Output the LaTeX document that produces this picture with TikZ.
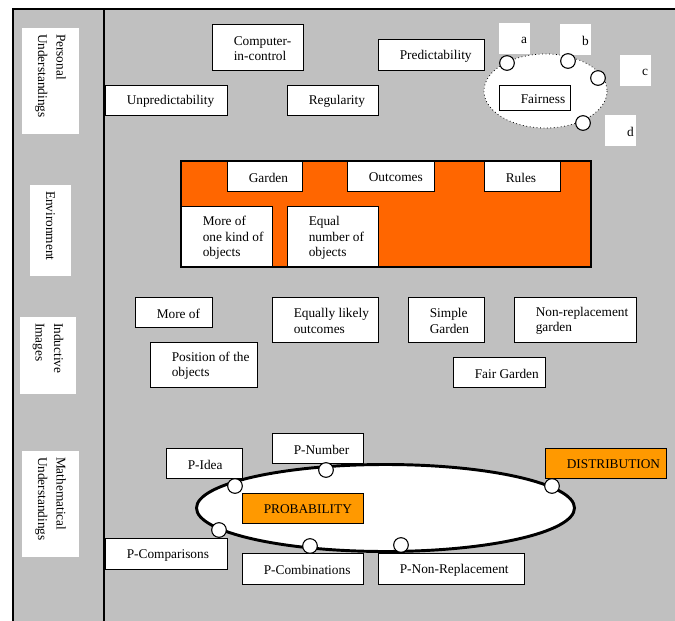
\documentclass[tikz,border=0pt]{standalone}
\usepackage{fontspec}
\setmainfont{Liberation Serif}
\usetikzlibrary{calc,fit}

\definecolor{panelgray}{HTML}{C0C0C0}
\definecolor{envorange}{HTML}{FF6600}
\definecolor{keyorange}{HTML}{FF9900}

\tikzset{
	tbox/.style={draw, fill=white, line width=0.75pt, inner sep=0pt},
	nobox/.style={fill=white, inner sep=0pt},
	obox/.style={draw, fill=keyorange, line width=0.75pt, inner sep=0pt},
	btext/.style={anchor=west, align=left, inner sep=0pt, font=\fontsize{10}{11.5}\selectfont},
	sidetext/.style={rotate=-90, anchor=west, align=left, inner sep=0pt, font=\fontsize{10}{13.8}\selectfont},
	knob/.style={circle, draw, fill=white, line width=0.8pt, inner sep=0pt, minimum size=11pt}
}

% box from two corners, text set in from the left edge
\def\tbox[#1](#2)(#3)(#4)#5{%
	\node[#1, fit={(#3) (#4)}] (#2) {};
	\node[btext] (#2-t) at ($(#2.west)+(22,1.5)$) {#5};
}

\begin{document}
\begin{tikzpicture}[x=0.75pt, y=-0.75pt]
			\useasboundingbox (0,0) rectangle (675,621);
			
			%%%%% PANEL %%%%%
			\fill[panelgray] (13,9) rectangle (675,621);
			\draw[line width=0.8pt] (675,9) -- (13,9) -- (13,621);
			\draw[line width=0.8pt] (104,9) -- (104,621);
			
			\node[nobox, fit={(22,28) (79,134)}] (pers) {};
			\node[sidetext] (pers-t) at ($(pers.north)+(0,6)$) {Personal\\Understandings};
			\node[nobox, fit={(30,185) (71,276)}] (envt) {};
			\node[sidetext] (envt-t) at ($(envt.north)+(0,6)$) {Environment};
			\node[nobox, fit={(20,317) (76,394)}] (induct) {};
			\node[sidetext] (induct-t) at ($(induct.north)+(0,6)$) {Inductive\\Images};
			\node[nobox, fit={(22,451) (79,557)}] (math) {};
			\node[sidetext] (math-t) at ($(math.north)+(0,6)$) {Mathematical\\Understandings};
			
			%%%%% PERSONAL %%%%%
			\tbox[tbox](compctl)(212,24)(303,70){Computer-\\in-control}
			\tbox[tbox](unpred)(105,85)(227,115){Unpredictability}
			\tbox[tbox](regul)(287,85)(378,115){Regularity}
			\tbox[tbox](predict)(378,39)(484,70){Predictability}
			
			\draw[fill=white, dotted, line width=0.6pt] (545.5,91) ellipse [x radius=61.5, y radius=37];
			\tbox[tbox](fair)(499,85)(570,110){Fairness}
			\tbox[nobox](la)(499,23)(530,54){a}
			\tbox[nobox](lb)(560,24)(591,55){b}
			\tbox[nobox](lc)(620,55)(651,86){c}
			\tbox[nobox](ld)(605,115)(636,146){d}
			\foreach \n/\x/\y in {ka/507/63, kb/568/61, kc/598/78, kd/583/123}
				\node[knob] (\n) at (\x,\y) {};
			
			%%%%% ENVIRONMENT %%%%%
			\node[fill=envorange, inner sep=0pt, fit={(181,161) (591,267)}] (env) {};
			\tbox[tbox](garden)(227,161)(302,191){Garden}
			\tbox[tbox](outc)(347,161)(434,191){Outcomes}
			\tbox[tbox](rules)(484,161)(560,191){Rules}
			\tbox[tbox](moreone)(181,206)(272,267){More of\\one kind of\\objects}
			\tbox[tbox](equalno)(287,206)(378,267){Equal\\number of\\objects}
			\draw[line width=1.6pt] (env.north west) rectangle (env.south east);
			
			%%%%% INDUCTIVE %%%%%
			\tbox[tbox](moreof)(135,297)(212,327){More of}
			\tbox[tbox](eqlikely)(272,297)(378,342){Equally likely\\outcomes}
			\tbox[tbox](position)(150,342)(257,387){Position of the\\objects}
			\tbox[tbox](simple)(408,297)(484,342){Simple\\Garden}
			\tbox[tbox](nonrepl)(514,297)(636,342){Non-replacement\\garden}
			\tbox[tbox](fairgdn)(453,357)(545,387){Fair Garden}
			
			%%%%% MATHEMATICAL %%%%%
			\coordinate (probell) at (385.5,508);
			\draw[fill=white, line width=2.2pt] (probell) ellipse [x radius=189, y radius=43.5];
			\tbox[tbox](pidea)(166,448)(242,478){P-Idea}
			\tbox[tbox](pnum)(272,433)(363,463){P-Number}
			\tbox[tbox](pcomp)(105,538)(227,569){P-Comparisons}
			\tbox[tbox](pcomb)(242,553)(363,584){P-Combinations}
			\tbox[tbox](pnonrep)(378,553)(524,584){P-Non-Replacement}
			\tbox[obox](prob)(242,493)(363,523){PROBABILITY}
			\tbox[obox](distr)(545,448)(666,478){DISTRIBUTION}
			\foreach \n/\x/\y in {k1/235/486, k2/326/470, k3/219/530, k4/310/546, k5/401/545, k6/552/486}
				\node[knob] (\n) at (\x,\y) {};
			
\end{tikzpicture}
\end{document}
